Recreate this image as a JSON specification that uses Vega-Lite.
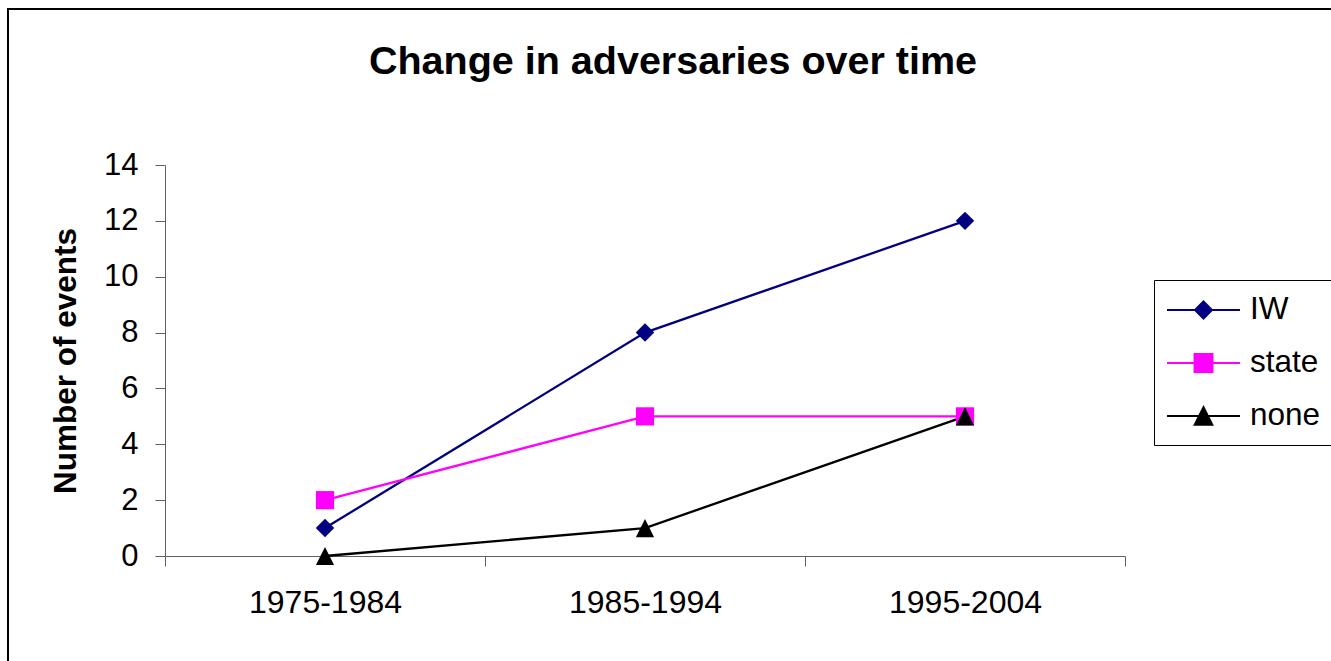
{
  "$schema": "https://vega.github.io/schema/vega-lite/v6.json",
  "autosize": "none",
  "width": 1326,
  "height": 655,
  "padding": {"left": 8, "top": 9, "right": -3, "bottom": -3},
  "background": "white",
  "config": {
    "font": "Liberation Sans",
    "view": {"stroke": "#000000", "strokeWidth": 2}
  },
  "title": {
    "text": "Change in adversaries over time",
    "fontSize": 39.5,
    "fontWeight": "bold",
    "font": "Liberation Sans",
    "color": "#000000",
    "anchor": "middle",
    "frame": "group",
    "baseline": "alphabetic",
    "offset": -104,
    "dx": 2
  },
  "data": {
    "values": [
      {"period": "1975-1984", "series": "IW", "events": 1},
      {"period": "1985-1994", "series": "IW", "events": 8},
      {"period": "1995-2004", "series": "IW", "events": 12},
      {"period": "1975-1984", "series": "state", "events": 2},
      {"period": "1985-1994", "series": "state", "events": 5},
      {"period": "1995-2004", "series": "state", "events": 5},
      {"period": "1975-1984", "series": "none", "events": 0},
      {"period": "1985-1994", "series": "none", "events": 1},
      {"period": "1995-2004", "series": "none", "events": 5}
    ]
  },
  "encoding": {
    "x": {
      "field": "period",
      "type": "nominal",
      "sort": null,
      "bandPosition": 0.5,
      "scale": {"type": "band", "range": [157, 1117], "paddingInner": 0, "paddingOuter": 0},
      "axis": {
        "title": null,
        "orient": "bottom",
        "offset": -108,
        "tickBand": "extent",
        "labelAngle": 0,
        "labelFontSize": 32,
        "labelColor": "#000000",
        "labelPadding": 21,
        "tickSize": 10,
        "tickColor": "#606060",
        "domainColor": "#606060",
        "tickWidth": 1,
        "domainWidth": 1,
        "grid": false
      }
    },
    "y": {
      "field": "events",
      "type": "quantitative",
      "scale": {"domain": [0, 14], "range": [547, 156], "nice": false, "zero": true},
      "axis": {
        "title": "Number of events",
        "titleFontSize": 31.5,
        "titleFontWeight": "bold",
        "titleColor": "#000000",
        "titleBaseline": "alphabetic",
        "titleX": -90,
        "offset": -157,
        "values": [0, 2, 4, 6, 8, 10, 12, 14],
        "labelFontSize": 31,
        "labelColor": "#000000",
        "labelPadding": 17,
        "tickSize": 10,
        "tickColor": "#606060",
        "domainColor": "#606060",
        "tickWidth": 1,
        "domainWidth": 1,
        "grid": false
      }
    },
    "color": {
      "field": "series",
      "type": "nominal",
      "scale": {"domain": ["IW", "state", "none"], "range": ["#000080", "#FF00FF", "#000000"]},
      "legend": {
        "title": null,
        "orient": "none",
        "legendX": 1146,
        "legendY": 271,
        "strokeColor": "#000000",
        "padding": 13,
        "labelFontSize": 31.5,
        "labelColor": "#000000",
        "labelOffset": 49,
        "rowPadding": 20,
        "symbolSize": 1024,
        "encode": {
          "symbols": {
            "update": {
              "shape": {"signal": "datum.value === 'IW' ? 'M-2.28,0H2.28M0,-0.53L0.53,0L0,0.53L-0.53,0Z' : datum.value === 'state' ? 'M-2.28,0H2.28M-0.56,-0.56H0.56V0.56H-0.56Z' : 'M-2.28,0H2.28M0,-0.55L0.55,0.55L-0.55,0.55Z'"},
              "size": {"value": 1024},
              "x": {"value": 36.5},
              "fill": {"scale": "color", "field": "value"},
              "stroke": {"scale": "color", "field": "value"},
              "strokeWidth": {"value": 2},
              "opacity": {"value": 1}
            }
          }
        }
      }
    }
  },
  "layer": [
    {
      "mark": {"type": "line", "strokeWidth": 2.3},
      "encoding": {"detail": {"field": "series"}}
    },
    {
      "transform": [{"filter": "datum.series === 'IW'"}],
      "mark": {"type": "point", "filled": true, "opacity": 1, "size": 340, "shape": "M0,-1L1,0L0,1L-1,0Z"}
    },
    {
      "transform": [{"filter": "datum.series === 'state'"}],
      "mark": {"type": "point", "filled": true, "opacity": 1, "size": 330, "shape": "square"}
    },
    {
      "transform": [{"filter": "datum.series === 'none'"}],
      "mark": {"type": "point", "filled": true, "opacity": 1, "size": 330, "shape": "M0,-1L1,1L-1,1Z"}
    }
  ]
}
